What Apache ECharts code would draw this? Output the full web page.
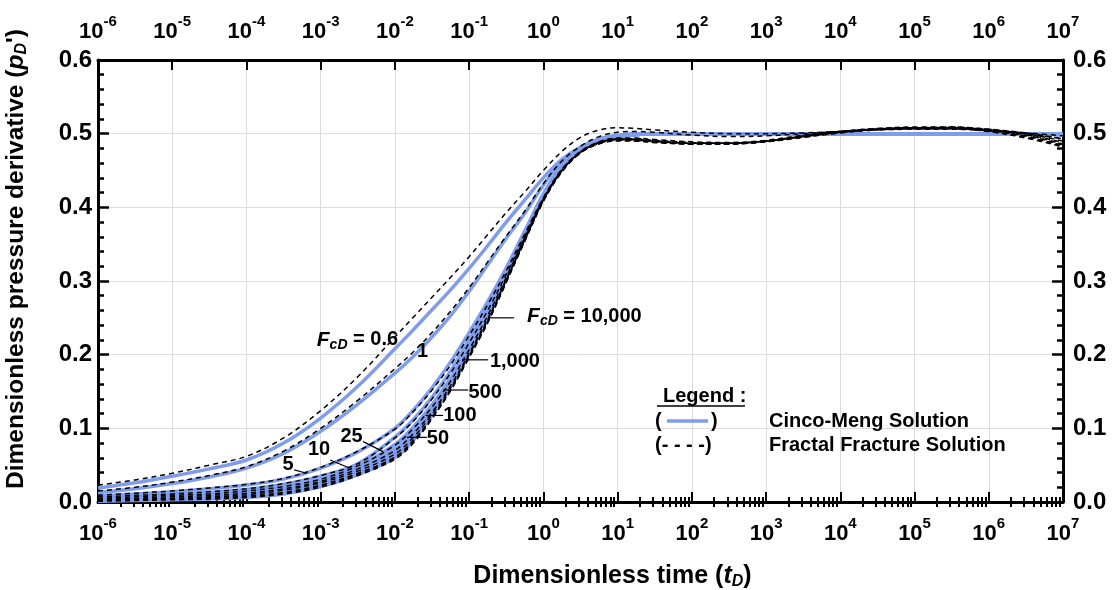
<!DOCTYPE html>
<html>
<head>
<meta charset="utf-8">
<script src="https://cdn.jsdelivr.net/npm/echarts@6/dist/echarts.min.js"></script>
<style>
html,body{margin:0;padding:0;background:#fff;}
#chart{width:1112px;height:590px;}
</style>
</head>
<body>
<div id="chart"></div>
<script>
// Dimensionless time samples (tD)
const times = [1e-6, 3.162e-6, 1e-5, 3.162e-5, 1e-4, 3.162e-4, 1e-3, 3.162e-3, 1e-2, 1.778e-2, 3.162e-2, 5.623e-2, 0.1, 0.1778, 0.3162, 0.5623, 1, 1.778, 3.162, 5.623, 10, 17.78, 31.62, 100, 316.2, 1000, 3162, 1e4, 3.162e4, 1e5, 3.162e5, 1e6, 3.162e6, 1e7];

// Cinco-Meng solution (solid blue), pD'
const cm06   = [0.019,0.026,0.035,0.045,0.057,0.080,0.114,0.157,0.208, 0.234,0.261,0.288,0.317,0.348,0.380,0.410,0.440,0.465,0.482,0.493,0.498,0.500,0.500, 0.500,0.500,0.500,0.500,0.500,0.500,0.500,0.500,0.500,0.500,0.499];
const cm1    = [0.013,0.018,0.025,0.034,0.046,0.066,0.096,0.133,0.175, 0.198,0.224,0.253,0.286,0.322,0.358,0.392,0.430,0.462,0.481,0.492,0.497,0.499,0.500, 0.500,0.500,0.500,0.500,0.500,0.500,0.500,0.500,0.500,0.500,0.499];
const cm5    = [0.008,0.011,0.014,0.018,0.023,0.031,0.046,0.068,0.100, 0.125,0.155,0.190,0.230,0.272,0.318,0.368,0.418,0.455,0.478,0.490,0.496,0.499,0.500, 0.500,0.500,0.500,0.500,0.500,0.500,0.500,0.500,0.500,0.500,0.499];
const cm10   = [0.006,0.008,0.010,0.013,0.017,0.024,0.035,0.052,0.088, 0.112,0.142,0.178,0.220,0.264,0.313,0.366,0.417,0.455,0.478,0.490,0.496,0.499,0.500, 0.500,0.500,0.500,0.500,0.500,0.500,0.500,0.500,0.500,0.500,0.499];
const cm25   = [0.005,0.006,0.008,0.010,0.014,0.020,0.030,0.048,0.078, 0.102,0.132,0.168,0.212,0.258,0.310,0.364,0.417,0.455,0.478,0.490,0.496,0.499,0.500, 0.500,0.500,0.500,0.500,0.500,0.500,0.500,0.500,0.500,0.500,0.499];
const cm50   = [0.004,0.005,0.006,0.008,0.011,0.017,0.027,0.045,0.072, 0.096,0.126,0.163,0.208,0.255,0.309,0.363,0.417,0.455,0.478,0.490,0.496,0.499,0.500, 0.500,0.500,0.500,0.500,0.500,0.500,0.500,0.500,0.500,0.500,0.499];
const cm100  = [0.003,0.004,0.005,0.007,0.009,0.015,0.025,0.042,0.067, 0.092,0.123,0.160,0.206,0.253,0.309,0.363,0.417,0.455,0.478,0.490,0.496,0.499,0.500, 0.500,0.500,0.500,0.500,0.500,0.500,0.500,0.500,0.500,0.500,0.499];
const cm500  = [0.002,0.003,0.004,0.006,0.008,0.013,0.023,0.040,0.063, 0.088,0.120,0.158,0.204,0.251,0.308,0.362,0.417,0.455,0.478,0.490,0.496,0.499,0.500, 0.500,0.500,0.500,0.500,0.500,0.500,0.500,0.500,0.500,0.500,0.499];
const cm1000 = [0.002,0.003,0.004,0.005,0.007,0.012,0.022,0.039,0.062, 0.086,0.119,0.157,0.203,0.250,0.308,0.362,0.417,0.455,0.478,0.490,0.496,0.499,0.500, 0.500,0.500,0.500,0.500,0.500,0.500,0.500,0.500,0.500,0.500,0.499];
const cm10000= [0.001,0.002,0.003,0.004,0.006,0.011,0.021,0.037,0.060, 0.084,0.118,0.157,0.203,0.250,0.308,0.362,0.417,0.455,0.478,0.490,0.496,0.499,0.500, 0.500,0.500,0.500,0.500,0.500,0.500,0.500,0.500,0.500,0.500,0.499];

// Fractal fracture solution (dashed black), pD'
const ff06   = [0.023,0.030,0.039,0.050,0.062,0.087,0.124,0.170,0.224, 0.251,0.278,0.305,0.333,0.363,0.393,0.421,0.450,0.476,0.495,0.505,0.508,0.507,0.505, 0.502,0.500,0.500,0.501,0.503,0.505,0.506,0.506,0.504,0.501,0.497];
const ff1    = [0.015,0.020,0.027,0.036,0.048,0.069,0.100,0.138,0.181, 0.204,0.230,0.259,0.291,0.326,0.361,0.395,0.432,0.463,0.483,0.496,0.502,0.503,0.502, 0.498,0.496,0.497,0.500,0.503,0.506,0.507,0.507,0.504,0.500,0.493];
const ff5    = [0.009,0.012,0.015,0.019,0.024,0.032,0.047,0.069,0.099, 0.123,0.152,0.186,0.226,0.268,0.314,0.364,0.413,0.452,0.476,0.489,0.494,0.494,0.492, 0.489,0.488,0.491,0.498,0.503,0.507,0.509,0.509,0.506,0.501,0.493];
const ff10   = [0.007,0.009,0.011,0.014,0.018,0.025,0.036,0.052,0.087, 0.110,0.140,0.175,0.216,0.260,0.309,0.361,0.412,0.451,0.475,0.488,0.493,0.493,0.491, 0.488,0.487,0.490,0.497,0.503,0.507,0.508,0.509,0.506,0.500,0.490];
const ff25   = [0.005,0.007,0.009,0.011,0.015,0.021,0.031,0.049,0.077, 0.100,0.129,0.164,0.207,0.253,0.305,0.359,0.411,0.450,0.475,0.488,0.493,0.492,0.490, 0.487,0.487,0.490,0.497,0.503,0.506,0.508,0.508,0.505,0.499,0.488];
const ff50   = [0.004,0.005,0.007,0.009,0.012,0.018,0.028,0.045,0.070, 0.093,0.122,0.158,0.202,0.249,0.302,0.357,0.410,0.450,0.475,0.488,0.492,0.492,0.490, 0.487,0.487,0.490,0.496,0.502,0.506,0.508,0.508,0.505,0.498,0.486];
const ff100  = [0.003,0.004,0.005,0.007,0.010,0.016,0.026,0.042,0.065, 0.088,0.119,0.155,0.200,0.247,0.301,0.356,0.410,0.450,0.475,0.487,0.492,0.491,0.489, 0.487,0.487,0.490,0.496,0.502,0.506,0.508,0.508,0.504,0.497,0.485];
const ff500  = [0.002,0.003,0.004,0.006,0.008,0.013,0.023,0.039,0.061, 0.084,0.115,0.153,0.198,0.245,0.300,0.355,0.409,0.449,0.474,0.487,0.491,0.491,0.489, 0.486,0.486,0.489,0.496,0.502,0.506,0.507,0.507,0.504,0.496,0.484];
const ff1000 = [0.002,0.003,0.004,0.005,0.007,0.012,0.022,0.038,0.060, 0.082,0.114,0.152,0.197,0.244,0.299,0.355,0.409,0.449,0.474,0.487,0.491,0.490,0.488, 0.486,0.486,0.489,0.495,0.502,0.506,0.507,0.507,0.503,0.495,0.483];
const ff10000= [0.001,0.002,0.003,0.004,0.006,0.011,0.020,0.036,0.058, 0.080,0.113,0.151,0.196,0.243,0.298,0.354,0.408,0.448,0.474,0.486,0.490,0.490,0.488, 0.486,0.486,0.489,0.495,0.501,0.505,0.507,0.507,0.503,0.494,0.482];

const fcdNames = ['0.6','1','5','10','25','50','100','500','1,000','10,000'];
const cincoMeng = [cm06, cm1, cm5, cm10, cm25, cm50, cm100, cm500, cm1000, cm10000];
const fractal   = [ff06, ff1, ff5, ff10, ff25, ff50, ff100, ff500, ff1000, ff10000];

// Minor tick positions (2..9 within each decade)
const minorX = [];
for (let e = -6; e < 7; e++) for (let m = 2; m <= 9; m++) minorX.push(m * Math.pow(10, e));

const FONT = '"Liberation Sans", Arial, sans-serif';
const BLUE = '#7f9dec';

function pairs(vals){ return times.map((t,i)=>[t, vals[i]]); }

const series = [];
cincoMeng.forEach((arr, i) => series.push({
  name: 'Cinco-Meng FcD=' + fcdNames[i], type: 'line', data: pairs(arr),
  xAxisIndex: 0, yAxisIndex: 0, showSymbol: false, smooth: 0.35, z: 3,
  lineStyle: {color: BLUE, width: 3.5}, silent: true
}));
fractal.forEach((arr, i) => series.push({
  name: 'Fractal FcD=' + fcdNames[i], type: 'line', data: pairs(arr),
  xAxisIndex: 0, yAxisIndex: 0, showSymbol: false, smooth: 0.35, z: 4,
  lineStyle: {color: '#000', width: 1.5, type: [5, 4]}, silent: true
}));

const xLabelRich = {
  b: {fontSize: 22, fontWeight: 'bold', fontFamily: FONT, color: '#000', lineHeight: 36},
  s: {fontSize: 15, fontWeight: 'bold', fontFamily: FONT, color: '#000', lineHeight: 15, verticalAlign: 'top'}
};
function xFmt(v){ const e = Math.round(Math.log10(v)); return '{b|10}{s|' + e + '}'; }

const axisLineStyle = {color: '#000', width: 3};
function majorX(pos, showName){
  const ax = {
    type: 'log', logBase: 10, min: 1e-6, max: 1e7, interval: 1, position: pos, gridIndex: 0,
    axisLine: {show: true, onZero: false, lineStyle: axisLineStyle},
    axisTick: {show: true, inside: true, length: 10, lineStyle: {color: '#000', width: 2}},
    axisLabel: {show: true, formatter: xFmt, rich: xLabelRich, margin: pos === 'bottom' ? 14 : 10},
    splitLine: {show: pos === 'bottom', lineStyle: {color: '#dcdcdc', width: 1}}
  };
  if (showName) {
    ax.name = '{a|Dimensionless time (}{i|t}{d|D}{a|)}';
    ax.nameLocation = 'middle';
    ax.nameGap = 60;
    ax.nameTextStyle = {padding: [0,0,0,64], rich: {
      a: {fontSize: 25, fontWeight: 'bold', fontFamily: FONT, color: '#000', lineHeight: 28},
      i: {fontSize: 25, fontWeight: 'bold', fontStyle: 'italic', fontFamily: FONT, color: '#000', lineHeight: 28},
      d: {fontSize: 16, fontWeight: 'bold', fontStyle: 'italic', fontFamily: FONT, color: '#000', lineHeight: 14, verticalAlign: 'bottom'}
    }};
  }
  return ax;
}
function minorXAxis(pos){
  return {
    type: 'log', logBase: 10, min: 1e-6, max: 1e7, position: pos, gridIndex: 0,
    axisLine: {show: false},
    axisTick: {show: true, inside: true, length: 5, customValues: minorX, lineStyle: {color: '#000', width: 2}},
    axisLabel: {show: false},
    splitLine: {show: false}
  };
}
function yAx(pos){
  const ax = {
    type: 'value', min: 0, max: 0.6, interval: 0.1, position: pos, gridIndex: 0,
    axisLine: {show: true, onZero: false, lineStyle: axisLineStyle},
    axisTick: {show: true, inside: true, length: 11, lineStyle: {color: '#000', width: 2.5}},
    minorTick: {show: true, splitNumber: 5, length: 6, lineStyle: {color: '#000', width: 2.5}},
    axisLabel: {show: true, margin: pos === 'left' ? 6 : 10, fontSize: 24, fontWeight: 'bold', fontFamily: FONT, color: '#000',
      formatter: v => v.toFixed(1)},
    splitLine: {show: pos === 'left', lineStyle: {color: '#dcdcdc', width: 1}}
  };
  if (pos === 'left') {
    ax.name = '{a|Dimensionless pressure derivative (}{i|p}{d|D}{a|\')}';
    ax.nameLocation = 'middle';
    ax.nameGap = 68;
    ax.nameTextStyle = {padding: [0,0,0,44], rich: {
      a: {fontSize: 24.5, fontWeight: 'bold', fontFamily: FONT, color: '#000', lineHeight: 28},
      i: {fontSize: 24.5, fontWeight: 'bold', fontStyle: 'italic', fontFamily: FONT, color: '#000', lineHeight: 28},
      d: {fontSize: 16, fontWeight: 'bold', fontStyle: 'italic', fontFamily: FONT, color: '#000', lineHeight: 14, verticalAlign: 'bottom'}
    }};
  }
  return ax;
}

const chart = echarts.init(document.getElementById('chart'), null, {renderer: 'canvas'});
chart.setOption({
  animation: false,
  backgroundColor: '#fff',
  grid: {left: 98, right: 49, top: 60, bottom: 88, containLabel: false, outerBoundsMode: 'none'},
  xAxis: [majorX('bottom', true), minorXAxis('bottom'), majorX('top', false), minorXAxis('top')],
  yAxis: [yAx('left'), yAx('right')],
  series: series
});

// Annotations (anchored in data space: [log10 tD, pD'])
const annRich = {
  n: {fontSize: 20, fontWeight: 'bold', fontFamily: FONT, color: '#000', lineHeight: 24},
  f: {fontSize: 21, fontWeight: 'bold', fontStyle: 'italic', fontFamily: FONT, color: '#000', lineHeight: 24},
  s: {fontSize: 14, fontWeight: 'bold', fontStyle: 'italic', fontFamily: FONT, color: '#000', lineHeight: 12, verticalAlign: 'bottom'}
};
const annotations = [
  {text: '{f|F}{s|cD}{n| = 10,000}', at: [-0.22, 0.252], align: 'left',  lead: [[-0.744, 0.250], [-0.394, 0.250]]},
  {text: '{n|1,000}',               at: [-0.72, 0.191], align: 'left',  lead: [[-1.094, 0.193], [-0.744, 0.193]]},
  {text: '{n|500}',                 at: [-1.01, 0.149], align: 'left',  lead: [[-1.350, 0.152], [-1.013, 0.152]]},
  {text: '{n|100}',                 at: [-1.35, 0.117], align: 'left',  lead: [[-1.590, 0.1175], [-1.350, 0.1175]]},
  {text: '{n|50}',                  at: [-1.57, 0.086], align: 'left',  lead: [[-1.840, 0.0878], [-1.570, 0.0878]]},
  {text: '{n|25}',                  at: [-2.584, 0.0887], align: 'center', lead: [[-2.428, 0.082], [-2.159, 0.0684]]},
  {text: '{n|10}',                  at: [-3.022, 0.0707], align: 'center', lead: [[-2.873, 0.0571], [-2.604, 0.0458]]},
  {text: '{n|5}',                   at: [-3.44, 0.0516], align: 'center', lead: [[-3.358, 0.0435], [-3.187, 0.039]]},
  {text: '{f|F}{s|cD}{n| = 0.6}',   at: [-1.957, 0.220], align: 'right'},
  {text: '{n|1}',                   at: [-1.627, 0.204], align: 'center'}
];
function px(p){ return chart.convertToPixel({xAxisIndex: 0, yAxisIndex: 0}, [Math.pow(10, p[0]), p[1]]); }

const graphics = [];
annotations.forEach((a, i) => {
  const p = px(a.at);
  graphics.push({type: 'text', id: 'ann' + i, x: p[0], y: p[1], z: 20,
    style: {text: a.text, rich: annRich, fill: '#000', align: a.align, verticalAlign: 'middle',
      textAlign: a.align, textVerticalAlign: 'middle'}});
  if (a.lead) {
    const p1 = px(a.lead[0]), p2 = px(a.lead[1]);
    graphics.push({type: 'line', id: 'lead' + i, z: 20,
      shape: {x1: p1[0], y1: p1[1], x2: p2[0], y2: p2[1]}, style: {stroke: '#000', lineWidth: 1.2}});
  }
});

// Legend block
const legFont = 'bold 20px ' + FONT;
function legText(id, x, y, t){
  return {type: 'text', id: id, x: x, y: y, z: 20, style: {text: t, font: legFont, fill: '#000', align: 'left', verticalAlign: 'middle', textAlign: 'left', textVerticalAlign: 'middle'}};
}
graphics.push(
  legText('legT', 663, 396, 'Legend :'),
  {type: 'line', id: 'legU', z: 20, shape: {x1: 657, y1: 406, x2: 745, y2: 406}, style: {stroke: '#000', lineWidth: 1.5}},
  legText('legP1', 655, 421, '('),
  {type: 'line', id: 'legB', z: 20, shape: {x1: 667, y1: 421, x2: 708, y2: 421}, style: {stroke: BLUE, lineWidth: 3.5}},
  legText('legP2', 711, 421, ')'),
  legText('legC', 769, 421, 'Cinco-Meng Solution'),
  legText('legD', 655, 445, '(- - - -)'),
  legText('legF', 769, 445, 'Fractal Fracture Solution')
);
chart.setOption({graphic: graphics});
</script>
</body>
</html>
